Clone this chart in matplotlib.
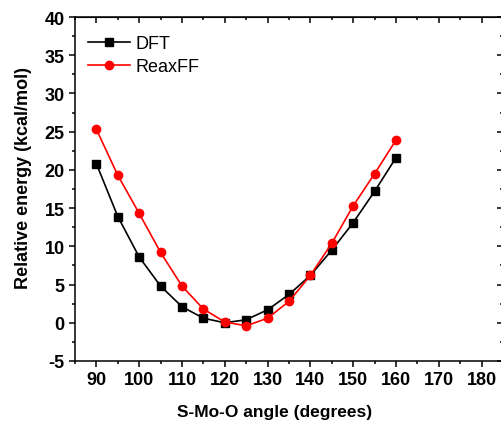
import matplotlib.pyplot as plt
from matplotlib.ticker import MultipleLocator

plt.rcParams['font.family'] = ['Liberation Sans', 'DejaVu Sans']
plt.rcParams['axes.unicode_minus'] = False

angle = [90, 95, 100, 105, 110, 115, 120, 125, 130, 135, 140, 145, 150, 155, 160]
dft = [20.8, 13.9, 8.6, 4.8, 2.1, 0.6, 0.0, 0.4, 1.7, 3.7, 6.2, 9.5, 13.1, 17.2, 21.6]
reaxff = [25.3, 19.3, 14.3, 9.2, 4.8, 1.8, 0.1, -0.4, 0.6, 2.8, 6.2, 10.4, 15.3, 19.5, 23.9]

fig = plt.figure(figsize=(5.02, 4.27), dpi=100)
ax = fig.add_axes([75 / 502, 65 / 427, 428 / 502, 344 / 427])

ax.plot(angle, dft, color='black', marker='s', markersize=5.5, linewidth=1.2, label='DFT')
ax.plot(angle, reaxff, color='red', marker='o', markersize=6, linewidth=1.2, label='ReaxFF')

ax.set_xlim(85, 185)
ax.set_ylim(-5, 40)
ax.xaxis.set_major_locator(MultipleLocator(10))
ax.xaxis.set_minor_locator(MultipleLocator(5))
ax.yaxis.set_major_locator(MultipleLocator(5))
ax.yaxis.set_minor_locator(MultipleLocator(2.5))
ax.set_xticks(range(90, 181, 10))

for s in ax.spines.values():
    s.set_linewidth(1.1)

ax.tick_params(which='major', direction='out', length=4, width=1.1, labelsize=13)
ax.tick_params(which='minor', direction='out', length=2.5, width=1.1)
for lab in ax.get_xticklabels() + ax.get_yticklabels():
    lab.set_fontweight('bold')

# inward ticks on top and right
top = ax.secondary_xaxis('top')
top.xaxis.set_major_locator(MultipleLocator(10))
top.xaxis.set_minor_locator(MultipleLocator(5))
top.tick_params(which='major', direction='in', length=4, width=1.1, labeltop=False)
top.tick_params(which='minor', direction='in', length=2.5, width=1.1)
right = ax.secondary_yaxis('right')
right.yaxis.set_major_locator(MultipleLocator(5))
right.yaxis.set_minor_locator(MultipleLocator(2.5))
right.tick_params(which='major', direction='in', length=4, width=1.1, labelright=False)
right.tick_params(which='minor', direction='in', length=2.5, width=1.1)

ax.set_xlabel('S-Mo-O angle (degrees)', fontsize=12.5, fontweight='bold', labelpad=12)
ax.xaxis.set_label_coords(0.467, -0.125)
ax.set_ylabel('Relative energy (kcal/mol)', fontsize=13, fontweight='bold')
ax.yaxis.set_label_coords(-0.10, 0.535)

ax.legend(loc='upper left', bbox_to_anchor=(0.002, 0.984), frameon=False, fontsize=13,
          handlelength=2.3, handletextpad=0.3, labelspacing=0.35, borderaxespad=0.3)

fig.savefig('out.png', dpi=100)
